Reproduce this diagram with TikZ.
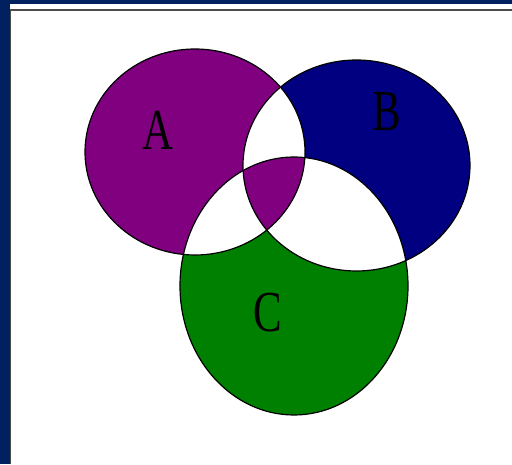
\documentclass[tikz,border=0pt]{standalone}
\usepackage{fontspec}
\setmainfont{Liberation Serif}
\usepackage{tikz}
\definecolor{frameNavy}{HTML}{00205F}
\definecolor{setPurple}{HTML}{800080}
\definecolor{setNavy}{HTML}{000080}
\definecolor{setGreen}{HTML}{008000}
\def\vennA{(195,312) ellipse [x radius=110, y radius=103]}
\def\vennB{(356.5,298.5) ellipse [x radius=113.5, y radius=105.5]}
\def\vennC{(294,178) ellipse [x radius=114, y radius=129]}

\begin{document}
\begin{tikzpicture}[x=1pt, y=1pt,
        outline/.style={draw=black, line width=1.2pt},
        lbl/.style={inner sep=0pt, font=\fontsize{58}{58}\selectfont}]
        \useasboundingbox (0,0) rectangle (512,464);
        % frame
        \fill[white] (0,0) rectangle (512,464);
        \fill[frameNavy] (0,0) rectangle (9.5,464);
        \fill[frameNavy] (0,459.5) rectangle (512,464);
        \draw[gray!60!black, line width=1.5pt] (10.7,0) -- (10.7,453.8) -- (512,453.8);
        % sets
        \fill[setPurple] \vennA;
        \fill[setNavy] \vennB;
        \fill[setGreen] \vennC;
        \begin{scope}
          \clip \vennA;
          \fill[white] \vennB;
          \fill[white] \vennC;
        \end{scope}
        \begin{scope}
          \clip \vennB;
          \fill[white] \vennC;
        \end{scope}
        \begin{scope}
          \clip \vennA; \clip \vennB;
          \fill[setPurple] \vennC;
        \end{scope}
        \draw[outline] \vennA; \draw[outline] \vennB; \draw[outline] \vennC;
        % labels
        \node[lbl] (labA) at (158,334) {\scalebox{0.74}[1]{A}};
        \node[lbl] (labB) at (387,352) {\scalebox{0.74}[1]{B}};
        \node[lbl] (labC) at (268,151) {\scalebox{0.74}[1]{C}};
      \end{tikzpicture}
\end{document}
